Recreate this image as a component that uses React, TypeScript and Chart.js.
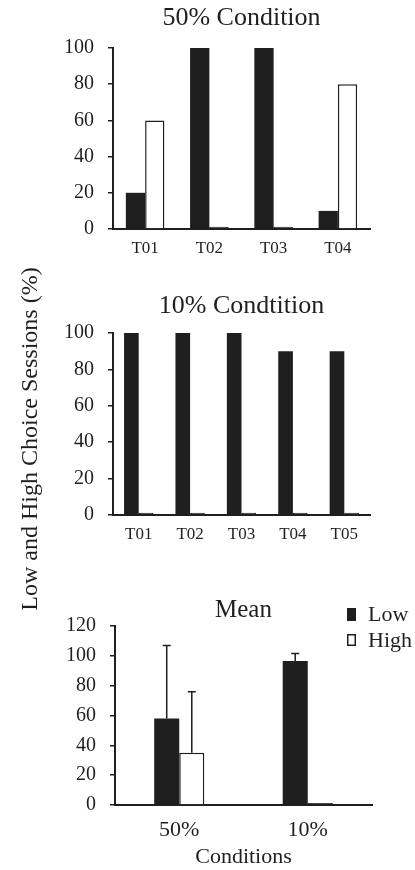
import React, { useEffect, useRef } from 'react';
import { Chart, registerables } from 'chart.js';

Chart.register(...registerables);

const FONT = "'Liberation Serif', 'Times New Roman', serif";
const INK = '#1f1f1f';

// ---- data ----
const seriesNames = ['Low', 'High'];

const cond50Labels = ['T01', 'T02', 'T03', 'T04'];
const cond50Low = [20, 100, 100, 10];
const cond50High = [60, 1.3, 1.3, 80];

const cond10Labels = ['T01', 'T02', 'T03', 'T04', 'T05'];
const cond10Low = [100, 100, 100, 90, 90];
const cond10High = [1.3, 1.3, 1.3, 1.3, 1.3];

const meanLabels = ['50%', '10%'];
const meanLow = [58, 96.5];
const meanHigh = [35, 1.3];
const meanLowErr = [49, 5];
const meanHighErr = [41, 0];

const yAxisTitle = 'Low and High Choice Sessions (%)';
const xAxisTitle = 'Conditions';

// ---- plugins ----
const errorBarPlugin = {
  id: 'errorBars',
  afterDatasetsDraw(chart: any) {
    const { ctx } = chart;
    const yScale = chart.scales.y;
    chart.data.datasets.forEach((ds: any, i: number) => {
      const errs: number[] | undefined = ds.errorBars;
      if (!errs) return;
      const meta = chart.getDatasetMeta(i);
      meta.data.forEach((bar: any, j: number) => {
        const e = errs[j];
        if (!e) return;
        const v = ds.data[j];
        const top = yScale.getPixelForValue(v + e);
        ctx.save();
        ctx.strokeStyle = INK;
        ctx.lineWidth = 1.5;
        ctx.beginPath();
        ctx.moveTo(bar.x, bar.y);
        ctx.lineTo(bar.x, top);
        ctx.moveTo(bar.x - 4, top);
        ctx.lineTo(bar.x + 4, top);
        ctx.stroke();
        ctx.restore();
      });
    });
  },
};

const boxLegendPlugin = {
  id: 'boxLegend',
  afterDraw(chart: any, _args: any, opts: any) {
    if (!opts || !opts.show) return;
    const { ctx, chartArea } = chart;
    chart.data.datasets.forEach((ds: any, i: number) => {
      const bx = chartArea.right - 25;
      const by = chartArea.top - 18 + i * 26;
      ctx.save();
      if (i === 0) {
        ctx.fillStyle = INK;
        ctx.fillRect(bx, by, 9, 13);
      } else {
        ctx.fillStyle = '#ffffff';
        ctx.fillRect(bx, by, 9, 12);
        ctx.strokeStyle = INK;
        ctx.lineWidth = 1.5;
        ctx.strokeRect(bx + 0.75, by + 0.75, 7.5, 10.5);
      }
      ctx.fillStyle = INK;
      ctx.font = `22px ${FONT}`;
      ctx.textBaseline = 'middle';
      ctx.textAlign = 'left';
      ctx.fillText(ds.label, bx + 21, by + 7);
      ctx.restore();
    });
  },
};

type PanelOpts = {
  title: string;
  titleSize: number;
  titlePadTop: number;
  titlePadBottom: number;
  labels: string[];
  low: number[];
  high: number[];
  lowErr?: number[];
  highErr?: number[];
  yMax: number;
  yWidth: number;
  padRight: number;
  xHeight: number;
  xFont: number;
  xPad: number;
  catPct: number;
  xTitle?: string;
  legend?: boolean;
};

function buildConfig(o: PanelOpts): any {
  return {
    type: 'bar',
    data: {
      labels: o.labels,
      datasets: [
        {
          label: seriesNames[0],
          data: o.low,
          backgroundColor: INK,
          borderColor: INK,
          borderWidth: 0,
          errorBars: o.lowErr,
        },
        {
          label: seriesNames[1],
          data: o.high,
          // very short outlined bars render as a solid sliver in the original
          backgroundColor: (c: any) => (c.raw !== undefined && c.raw < 3 ? INK : '#ffffff'),
          borderColor: INK,
          borderWidth: 1.5,
          errorBars: o.highErr,
        },
      ],
    },
    plugins: [errorBarPlugin, boxLegendPlugin],
    options: {
      responsive: false,
      animation: false,
      devicePixelRatio: 1,
      layout: { padding: { left: 0, right: o.padRight, top: 0, bottom: 0 } },
      datasets: {
        bar: { categoryPercentage: o.catPct, barPercentage: 1.0 },
      },
      plugins: {
        legend: { display: false },
        tooltip: { enabled: false },
        title: {
          display: true,
          text: o.title,
          fullSize: false,
          color: INK,
          font: { family: FONT, size: o.titleSize, weight: 'normal' },
          padding: { top: o.titlePadTop, bottom: o.titlePadBottom },
        },
        boxLegend: { show: !!o.legend },
      },
      scales: {
        x: {
          type: 'category',
          ticks: {
            color: INK,
            font: { family: FONT, size: o.xFont },
            padding: o.xPad,
            maxRotation: 0,
            autoSkip: false,
          },
          grid: { display: true, drawOnChartArea: false, drawTicks: false },
          border: { display: true, color: INK, width: 2 },
          title: o.xTitle
            ? {
                display: true,
                text: o.xTitle,
                color: INK,
                font: { family: FONT, size: 22 },
                padding: { top: 0, bottom: 0 },
              }
            : { display: false },
          afterFit: (s: any) => {
            s.height = o.xHeight;
          },
        },
        y: {
          min: 0,
          max: o.yMax,
          ticks: {
            stepSize: 20,
            color: INK,
            font: { family: FONT, size: 20 },
            padding: 14,
          },
          grid: {
            display: true,
            drawOnChartArea: false,
            drawTicks: true,
            tickLength: 5,
            color: INK,
            lineWidth: 1.5,
          },
          border: { display: true, color: INK, width: 2 },
          afterFit: (s: any) => {
            s.width = o.yWidth;
          },
        },
      },
    },
  };
}

function ChartCanvas({ top, height, opts }: { top: number; height: number; opts: PanelOpts }) {
  const ref = useRef<HTMLCanvasElement>(null);
  useEffect(() => {
    if (!ref.current) return;
    const chart = new Chart(ref.current, buildConfig(opts));
    return () => chart.destroy();
  }, []);
  return (
    <canvas
      ref={ref}
      width={415}
      height={height}
      style={{ position: 'absolute', left: 0, top, width: 415, height }}
    />
  );
}

export default function App() {
  return (
    <div
      style={{
        position: 'absolute',
        left: 0,
        top: 0,
        width: 415,
        height: 870,
        background: '#ffffff',
        overflow: 'hidden',
        fontFamily: FONT,
      }}
    >
      <ChartCanvas
        top={0}
        height={262}
        opts={{
          title: '50% Condition',
          titleSize: 26,
          titlePadTop: 3,
          titlePadBottom: 13.8,
          labels: cond50Labels,
          low: cond50Low,
          high: cond50High,
          yMax: 100,
          yWidth: 113,
          padRight: 45,
          xHeight: 33,
          xFont: 17,
          xPad: 9,
          catPct: 0.6,
        }}
      />
      <ChartCanvas
        top={280}
        height={265}
        opts={{
          title: '10% Condtition',
          titleSize: 26,
          titlePadTop: 10.9,
          titlePadBottom: 10.9,
          labels: cond10Labels,
          low: cond10Low,
          high: cond10High,
          yMax: 100,
          yWidth: 113,
          padRight: 45,
          xHeight: 30,
          xFont: 17,
          xPad: 9,
          catPct: 0.57,
        }}
      />
      <ChartCanvas
        top={580}
        height={290}
        opts={{
          title: 'Mean',
          titleSize: 25,
          titlePadTop: 15.5,
          titlePadBottom: 0.5,
          labels: meanLabels,
          low: meanLow,
          high: meanHigh,
          lowErr: meanLowErr,
          highErr: meanHighErr,
          yMax: 120,
          yWidth: 115,
          padRight: 43,
          xHeight: 65,
          xFont: 22,
          xPad: 12,
          catPct: 0.39,
          xTitle: xAxisTitle,
          legend: true,
        }}
      />
      <div
        style={{
          position: 'absolute',
          left: 28.5 - 200,
          top: 439 - 15,
          width: 400,
          height: 30,
          lineHeight: '30px',
          fontSize: 24,
          textAlign: 'center',
          color: INK,
          transform: 'rotate(-90deg)',
          whiteSpace: 'nowrap',
        }}
      >
        {yAxisTitle}
      </div>
    </div>
  );
}
